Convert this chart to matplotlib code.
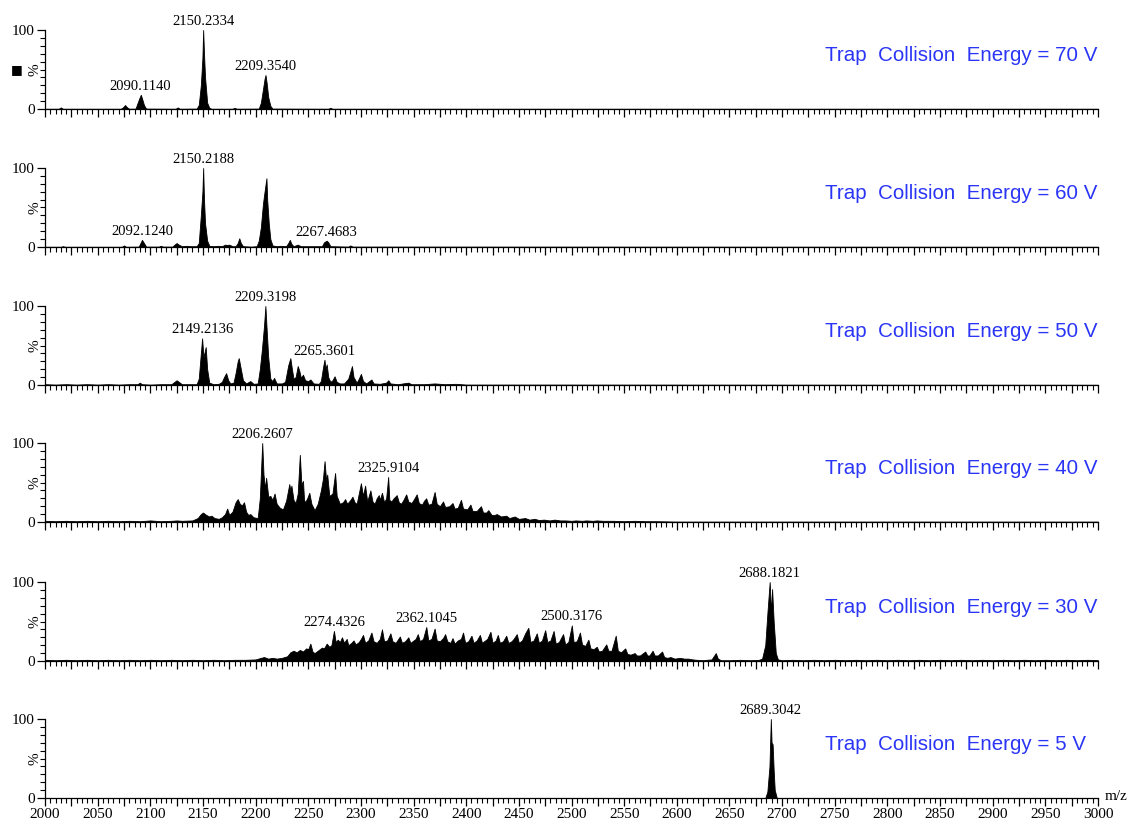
import numpy as np
import matplotlib
matplotlib.use("Agg")
import matplotlib.pyplot as plt
from matplotlib.ticker import MultipleLocator, FuncFormatter

plt.rcParams['font.family'] = 'serif'
plt.rcParams['font.serif'] = ['Liberation Serif', 'DejaVu Serif']

# collision energies, one panel each (top to bottom)
energies = [70, 60, 50, 40, 30, 5]

# spectra: (m/z, relative intensity %)
spec70 = [(2000, 0.3), (2013, 0.3), (2015, 2), (2017, 0.3), (2072, 0.3), (2074, 2), (2076, 5),
          (2078, 2), (2080, 0.3), (2086, 0.5), (2088, 8), (2090, 15), (2091, 18), (2092, 14),
          (2094, 5), (2096, 0.5), (2124, 0.3), (2126, 2), (2128, 0.3), (2144, 0.5), (2146, 5),
          (2148, 30), (2149.5, 65), (2150.2, 100), (2151, 70), (2152, 40), (2154, 8), (2156, 1.5),
          (2158, 0.3), (2178, 0.3), (2180, 1.5), (2182, 0.3), (2203, 0.5), (2205, 8), (2207, 25),
          (2208.5, 38), (2209.4, 43), (2210.5, 33), (2212, 15), (2214, 4), (2216, 0.5),
          (2269, 0.3), (2271, 1.5), (2273, 0.3), (3000, 0.3)]

spec60 = [(2000, 0.3), (2015, 0.3), (2017, 1), (2019, 0.3), (2073, 0.3), (2075, 2), (2077, 0.3),
          (2089, 0.5), (2091, 6), (2092.1, 9), (2093.5, 6), (2096, 0.5), (2108, 0.5), (2110, 1.5),
          (2112, 0.5), (2121, 0.5), (2123, 3), (2125, 5), (2127, 3), (2130, 1), (2134, 1.5),
          (2138, 1), (2144, 1), (2146, 5), (2148, 40), (2149.5, 70), (2150.2, 100), (2151, 60),
          (2152, 30), (2154, 8), (2156, 1.5), (2160, 1), (2164, 1.5), (2168, 1), (2171, 3),
          (2173, 2.5), (2175, 3), (2178, 1), (2181, 1), (2183, 5), (2184.5, 11), (2186, 5),
          (2188, 1), (2196, 0.5), (2201, 1), (2203, 8), (2205, 25), (2207, 55), (2209, 75),
          (2210.3, 87), (2211, 60), (2212.5, 30), (2214, 10), (2216, 2), (2220, 1), (2224, 1.5),
          (2229, 1), (2231, 5), (2232.5, 9), (2234, 4), (2236, 1), (2238, 2), (2240, 3),
          (2243, 1), (2250, 1), (2263, 1), (2265, 6), (2267.5, 8), (2269, 6), (2271, 1),
          (2288, 0.5), (2290, 2), (2292, 0.5), (3000, 0.3)]

spec50 = [(2000, 1), (2010, 0.5), (2020, 1), (2030, 0.5), (2040, 1), (2050, 0.5), (2060, 1),
          (2070, 0.5), (2080, 1), (2088, 1), (2090, 3), (2092, 1), (2100, 0.5), (2110, 1),
          (2120, 1), (2123, 4), (2125, 6), (2127, 4), (2130, 1), (2140, 1), (2144, 1), (2146, 8),
          (2148, 40), (2149.2, 59), (2150.5, 35), (2152.6, 48), (2154, 20), (2156, 3), (2160, 1),
          (2165, 1.5), (2168, 4), (2170, 10), (2172, 15), (2174, 6), (2176, 2), (2179, 3),
          (2181, 15), (2183, 30), (2184, 34), (2186, 20), (2188, 6), (2191, 2), (2195, 5),
          (2198, 1.5), (2202, 2), (2204, 20), (2206, 45), (2208, 75), (2209.3, 100), (2210.5, 70),
          (2212, 35), (2214, 8), (2216, 5), (2217.5, 9), (2220, 2), (2225, 2), (2228, 4),
          (2231, 25), (2233, 34), (2234.5, 20), (2236, 8), (2238, 10), (2240, 24), (2241.5, 18),
          (2243, 9), (2245, 13), (2247, 6), (2250, 5), (2252, 7), (2255, 2), (2260, 1.5),
          (2262, 5), (2264, 22), (2265.4, 32), (2266.5, 20), (2267.5, 26), (2269, 10), (2271, 4),
          (2273, 6), (2275, 11), (2277, 4), (2280, 2), (2284, 2), (2288, 8), (2290, 17),
          (2291.5, 24), (2293, 10), (2296, 3), (2298, 8), (2300, 14), (2302, 5), (2305, 2),
          (2308, 5), (2310, 7), (2312, 2), (2318, 1.5), (2324, 3), (2326, 6), (2328, 2),
          (2335, 1), (2345, 3), (2348, 1), (2360, 1), (2370, 2), (2380, 1), (2390, 1.5),
          (2400, 0.5), (2450, 0.5), (3000, 0.3)]

spec40 = [(2000, 1.5), (2010, 1), (2020, 1.5), (2030, 1), (2040, 1.5), (2050, 1), (2060, 1.5),
          (2070, 1), (2080, 1.5), (2090, 1), (2100, 2), (2110, 1), (2120, 1.5), (2125, 2),
          (2130, 1.5), (2140, 2), (2145, 5), (2148, 10), (2150, 12), (2153, 9), (2156, 7),
          (2158, 8), (2161, 5), (2165, 4), (2168, 6), (2171, 10), (2173, 17), (2175, 9), (2178, 13),
          (2181, 25), (2183, 29), (2185, 23), (2187, 21), (2189, 25), (2191, 13), (2193, 9),
          (2195, 10), (2198, 6), (2202, 5), (2204, 30), (2206.3, 100), (2207.5, 60), (2209, 42),
          (2210, 56), (2212, 32), (2214, 33), (2216, 28), (2218, 36), (2220, 23), (2223, 18),
          (2226, 16), (2229, 27), (2232, 48), (2233, 40), (2234, 46), (2236, 28), (2238, 24),
          (2240, 36), (2242, 85), (2243.5, 47), (2245, 52), (2246, 28), (2247, 25), (2249, 30),
          (2251, 37), (2253, 23), (2256, 15), (2259, 23), (2262, 40), (2264, 55), (2265.5, 77),
          (2267, 52), (2268, 60), (2270, 33), (2273, 36), (2275.5, 62), (2277, 33), (2280, 23),
          (2283, 25), (2285, 29), (2287, 23), (2290, 28), (2292, 32), (2294, 25), (2296, 23),
          (2298, 36), (2300, 49), (2302, 33), (2304, 46), (2306, 26), (2309, 40), (2311, 26),
          (2313, 23), (2315, 30), (2317, 34), (2318, 28), (2320, 37), (2322, 25), (2324, 30),
          (2325.9, 57), (2327, 28), (2329, 26), (2331, 30), (2334, 34), (2336, 25), (2338, 23),
          (2340, 27), (2343, 35), (2345, 26), (2348, 24), (2350, 28), (2353, 35), (2355, 24),
          (2358, 22), (2360, 27), (2362, 30), (2364, 22), (2367, 23), (2370, 38), (2372, 23),
          (2375, 20), (2378, 26), (2380, 19), (2384, 20), (2387, 24), (2389, 17), (2392, 18),
          (2395, 28), (2397, 17), (2401, 16), (2404, 22), (2406, 14), (2410, 14), (2414, 20),
          (2416, 12), (2419, 12), (2421, 15), (2424, 9), (2427, 9), (2429, 10), (2433, 7),
          (2438, 8), (2441, 5), (2446, 7), (2450, 4), (2456, 5), (2460, 3), (2465, 4),
          (2469, 2.5), (2474, 3), (2479, 2), (2484, 3), (2489, 2), (2494, 2), (2500, 1.5),
          (2504, 2), (2510, 1.5), (2514, 2), (2520, 1.5), (2524, 2), (2530, 1.5), (2540, 1.5),
          (2550, 1), (2560, 1.5), (2570, 1), (2580, 1), (2600, 0.5), (3000, 0.5)]

spec30 = [(2000, 1.5), (2010, 1), (2020, 1.5), (2030, 1), (2040, 1.5), (2050, 1), (2060, 1.5),
          (2070, 1), (2080, 1.5), (2090, 1), (2100, 1.5), (2110, 1), (2120, 1.5), (2130, 1),
          (2140, 1.5), (2150, 1), (2160, 1.5), (2170, 1), (2180, 1.5), (2190, 1.5), (2200, 2),
          (2205, 4), (2208, 5), (2212, 3), (2216, 4), (2220, 3), (2225, 4), (2230, 6), (2233, 11),
          (2236, 13), (2239, 11), (2242, 14), (2245, 12), (2248, 16), (2250, 15), (2252, 22),
          (2254, 12), (2256, 10), (2260, 14), (2263, 17), (2265, 16), (2267.5, 22), (2270, 18),
          (2272, 20), (2274.4, 38), (2276, 24), (2278, 27), (2280, 24), (2282, 30), (2284, 23),
          (2286.5, 28), (2288, 20), (2291, 23), (2293, 26), (2295, 21), (2298, 24), (2300, 28),
          (2302, 33), (2304, 23), (2307, 26), (2310, 36), (2312, 25), (2315, 23), (2318, 28),
          (2320, 40), (2322, 25), (2325, 26), (2328, 35), (2330, 25), (2333, 23), (2335, 27),
          (2337, 31), (2339, 23), (2342, 25), (2345, 30), (2347, 23), (2350, 26), (2352, 28),
          (2354, 34), (2356, 25), (2359, 28), (2362.1, 43), (2364, 26), (2367, 28), (2370, 41),
          (2372, 26), (2375, 25), (2378, 29), (2380, 34), (2382, 25), (2385, 23), (2387, 29),
          (2389, 22), (2392, 26), (2395, 28), (2397, 36), (2399, 23), (2402, 25), (2405, 32),
          (2407, 23), (2410, 26), (2413, 33), (2415, 23), (2418, 26), (2420, 28), (2423, 37),
          (2425, 23), (2428, 26), (2430, 33), (2432, 23), (2435, 25), (2438, 32), (2440, 23),
          (2443, 25), (2445, 28), (2448, 34), (2450, 23), (2453, 26), (2456, 35), (2459, 42),
          (2461, 24), (2464, 26), (2467, 35), (2469, 23), (2472, 26), (2475, 39), (2477, 24),
          (2480, 26), (2483, 38), (2485, 22), (2488, 24), (2492, 34), (2494, 21), (2497, 24),
          (2500.3, 45), (2502, 24), (2505, 25), (2508, 36), (2510, 21), (2513, 19), (2516, 27),
          (2518, 16), (2521, 15), (2524, 18), (2526, 12), (2529, 13), (2533, 21), (2535, 13),
          (2538, 13), (2542, 32), (2544, 13), (2547, 11), (2551, 16), (2553, 9), (2556, 8),
          (2560, 10), (2562, 7), (2565, 7), (2570, 12), (2572, 7), (2574, 7), (2577, 13),
          (2579, 7), (2582, 7), (2586, 12), (2588, 5), (2591, 4), (2594, 5), (2598, 3),
          (2603, 4), (2607, 3), (2611, 3), (2615, 2), (2619, 1.5), (2625, 1), (2628, 1.5),
          (2633, 2), (2635, 6), (2637, 10), (2639, 3), (2642, 1), (2650, 1), (2660, 1.5),
          (2670, 1), (2678, 1.5), (2681, 3), (2684, 20), (2686, 60), (2688.2, 100), (2689.5, 60),
          (2690.5, 91), (2692, 50), (2694, 10), (2696, 2), (2700, 1), (2710, 1.5), (2720, 1),
          (2730, 1.5), (2740, 1), (2750, 1.5), (2760, 1), (2770, 1.5), (2780, 1), (2790, 1.5),
          (2800, 1), (2810, 1.5), (2820, 1), (2830, 1.5), (2840, 1), (2850, 1.5), (2860, 1),
          (2870, 1.5), (2880, 1), (2890, 1.5), (2900, 1), (2910, 1.5), (2920, 1), (2930, 1.5),
          (2940, 1), (2950, 1.5), (2960, 1), (2970, 1.5), (2980, 1), (2990, 1.5), (3000, 1)]

spec5 = [(2000, 0), (2684, 0), (2686, 8), (2688, 40), (2689.3, 100), (2690, 70), (2691, 68),
         (2692, 35), (2693, 10), (2695, 0), (3000, 0)]

# annotated peaks per panel
labels70 = ['2090.1140', '2150.2334', '2209.3540']
labels60 = ['2092.1240', '2150.2188', '2267.4683']
labels50 = ['2149.2136', '2209.3198', '2265.3601']
labels40 = ['2206.2607', '2325.9104']
labels30 = ['2274.4326', '2362.1045', '2500.3176', '2688.1821']
labels5 = ['2689.3042']

spectra = [spec70, spec60, spec50, spec40, spec30, spec5]
peak_labels = [labels70, labels60, labels50, labels40, labels30, labels5]

W, H = 1133, 825
fig = plt.figure(figsize=(W / 100, H / 100), dpi=100)

baselines = [109, 247, 385, 522, 661, 798]
left_px, right_px, h_px = 45, 1098, 79

for i, (spec, labs, ev) in enumerate(zip(spectra, peak_labels, energies)):
    ax = fig.add_axes([left_px / W, 1 - baselines[i] / H, (right_px - left_px) / W, h_px / H])
    mz = np.array([p[0] for p in spec])
    inten = np.array([p[1] for p in spec])
    ax.fill_between(mz, inten, 0, color='black', linewidth=0.6, clip_on=False)

    for lab in labs:
        m = float(lab)
        near = np.abs(mz - m) < 3
        top = inten[near].max()
        ax.annotate(lab, xy=(m, top), xytext=(0, 2), textcoords='offset pixels',
                    ha='center', va='bottom', fontsize=10.5)

    ax.text(0.741, 0.68, 'Trap  Collision  Energy = %d V' % ev, transform=ax.transAxes,
            ha='left', va='center', fontsize=14.8, color='#2a35f5', family='Liberation Sans')

    ax.set_xlim(2000, 3000)
    ax.set_ylim(0, 100)
    for s in ['top', 'right']:
        ax.spines[s].set_visible(False)
    ax.spines['left'].set_linewidth(0.9)
    ax.spines['bottom'].set_linewidth(0.9)

    ax.xaxis.set_major_locator(MultipleLocator(25))
    ax.xaxis.set_minor_locator(MultipleLocator(5))
    ax.set_yticks([0, 100])
    ax.yaxis.set_minor_locator(MultipleLocator(10))
    ax.tick_params(axis='both', which='major', length=6, width=0.9, labelsize=11, pad=1.5)
    ax.tick_params(axis='both', which='minor', length=3.5, width=0.8)
    ax.yaxis.set_major_formatter(FuncFormatter(lambda v, p: '%d' % v))

    ax.annotate('%', xy=(0, 0.5), xycoords='axes fraction', xytext=(-10, 0),
                textcoords='offset pixels', rotation=90, ha='center', va='center', fontsize=11)

    if i < len(energies) - 1:
        ax.tick_params(axis='x', labelbottom=False)
    else:
        ax.xaxis.set_major_formatter(FuncFormatter(lambda v, p: '%d' % v if v % 50 == 0 else ''))
        ax.annotate('m/z', xy=(1, 0), xycoords='axes fraction', xytext=(7, 2),
                    textcoords='offset pixels', ha='left', va='center', fontsize=11)

# small black marker left of the first panel
fig.text(16.5 / W, 1 - 70 / H, '\u25a0', ha='center', va='center', fontsize=9,
         family='DejaVu Sans')

fig.savefig('out.png', dpi=100)
